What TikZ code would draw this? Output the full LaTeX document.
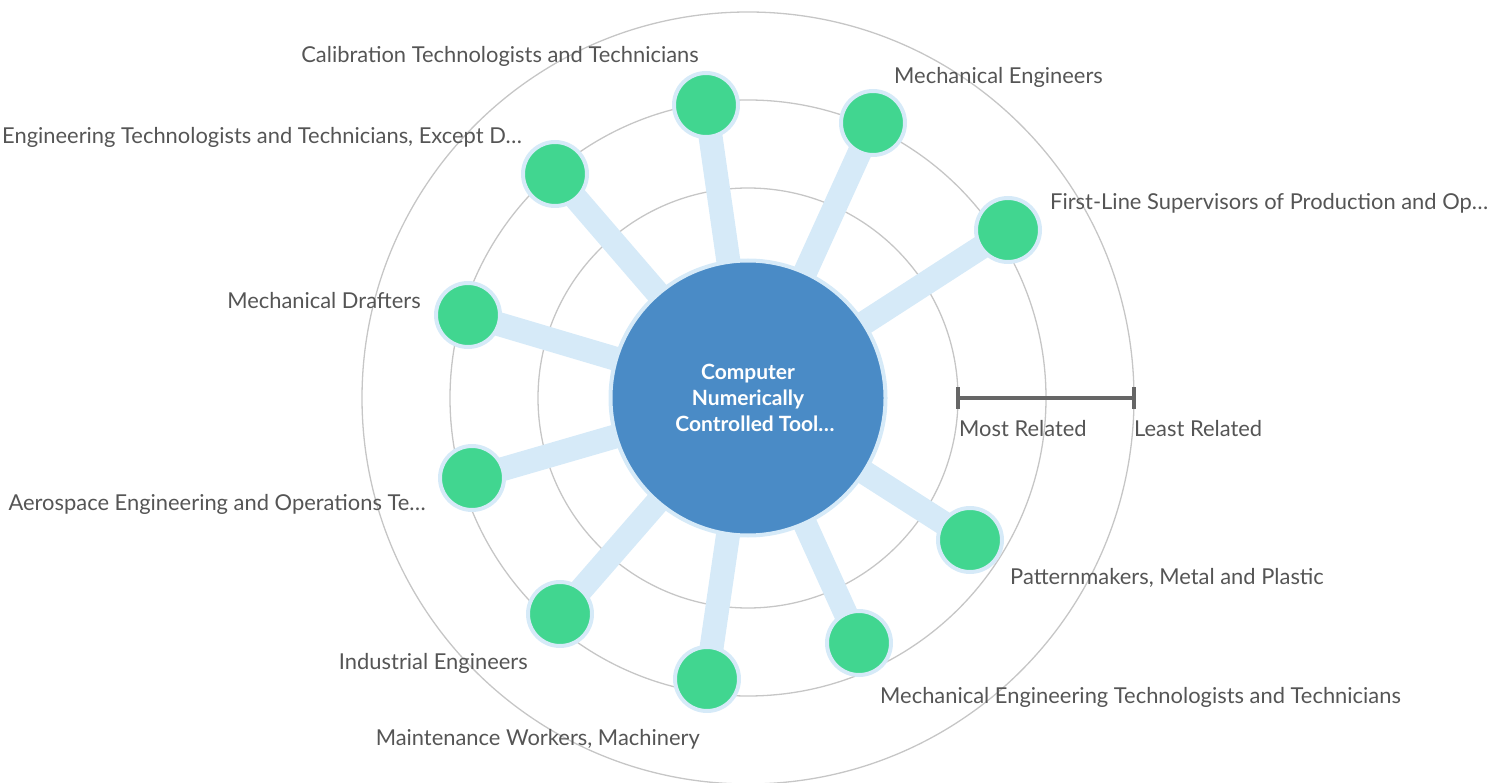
\documentclass[tikz,border=0pt]{standalone}
\usepackage{fontspec}
\setmainfont{Lato}
\definecolor{ringgray}{HTML}{C6C6C6}
\definecolor{spokeblue}{HTML}{D6EAF8}
\definecolor{centerblue}{HTML}{4A8BC6}
\definecolor{nodegreen}{HTML}{41D690}
\definecolor{labelgray}{HTML}{555555}
\definecolor{bargray}{HTML}{666666}
\pgfdeclarelayer{rings}
\pgfdeclarelayer{spokes}
\pgfsetlayers{rings,spokes,main}
\begin{document}
\begin{tikzpicture}[x=1pt,y=-1pt,
  ring/.style={draw=ringgray,line width=1.3pt},
  spoke/.style={draw=spokeblue,line width=24pt},
  hub/.style={circle,fill=centerblue,draw=spokeblue,line width=4pt,minimum size=275pt,inner sep=0pt,
    text=white,font=\fontsize{21}{26}\selectfont\bfseries,align=center},
  leaf/.style={circle,fill=nodegreen,draw=spokeblue,line width=4pt,minimum size=64pt,inner sep=0pt},
  lbl/.style={inner sep=0pt,text=labelgray,font=\fontsize{21.9}{26}\selectfont},
  bar/.style={draw=bargray,line width=4pt}
]
\useasboundingbox (0,0) rectangle (1489,783);
\begin{scope}
\clip (0,0) rectangle (1489,783);
\begin{pgfonlayer}{rings}
\draw[ring] (748,398) circle[radius=210];
\draw[ring] (748,398) circle[radius=298];
\draw[ring] (748,398) circle[radius=386];
\end{pgfonlayer}

\node[hub] (c) at (748,398) {Computer\\Numerically\\\hspace*{14pt}Controlled Tool…};

\node[leaf] (n1) at (706,105) {};
\node[leaf] (n2) at (873,123) {};
\node[leaf] (n3) at (1008,230) {};
\node[leaf] (n4) at (555,174) {};
\node[leaf] (n5) at (468,315) {};
\node[leaf] (n6) at (472,478) {};
\node[leaf] (n7) at (560,614) {};
\node[leaf] (n8) at (707,679) {};
\node[leaf] (n9) at (859,643) {};
\node[leaf] (n10) at (970,540) {};

\begin{pgfonlayer}{spokes}
\foreach \n in {n1,n2,n3,n4,n5,n6,n7,n8,n9,n10}
  \draw[spoke] (c.center) -- (\n.center);
\end{pgfonlayer}

\node[lbl,anchor=east] (l1) at (699,56) {Calibration Technologists and Technicians};
\node[lbl,anchor=west] (l2) at (894,77) {Mechanical Engineers};
\node[lbl,anchor=west] (l3) at (1050,203) {First-Line Supervisors of Production and Op…};
\node[lbl,anchor=east] (l4) at (522,137) {Engineering Technologists and Technicians, Except D…};
\node[lbl,anchor=east] (l5) at (421,301) {Mechanical Drafters};
\node[lbl,anchor=east] (l6) at (426,504) {Aerospace Engineering and Operations Te…};
\node[lbl,anchor=east] (l7) at (528,663) {Industrial Engineers};
\node[lbl,anchor=east] (l8) at (700,739) {Maintenance Workers, Machinery};
\node[lbl,anchor=west] (l9) at (880,697) {Mechanical Engineering Technologists and Technicians};
\node[lbl,anchor=west] (l10) at (1010,578) {Patternmakers, Metal and Plastic};

\coordinate (b1) at (958,398);
\coordinate (b2) at (1134,398);
\draw[bar] (b1) -- (b2);
\draw[bar] ([yshift=-11pt]b1) -- ([yshift=11pt]b1);
\draw[bar] ([yshift=-11pt]b2) -- ([yshift=11pt]b2);
\node[lbl,anchor=west] (m1) at (959,429) {Most Related};
\node[lbl,anchor=west] (m2) at (1134,429) {Least Related};
\end{scope}
\end{tikzpicture}
\end{document}
